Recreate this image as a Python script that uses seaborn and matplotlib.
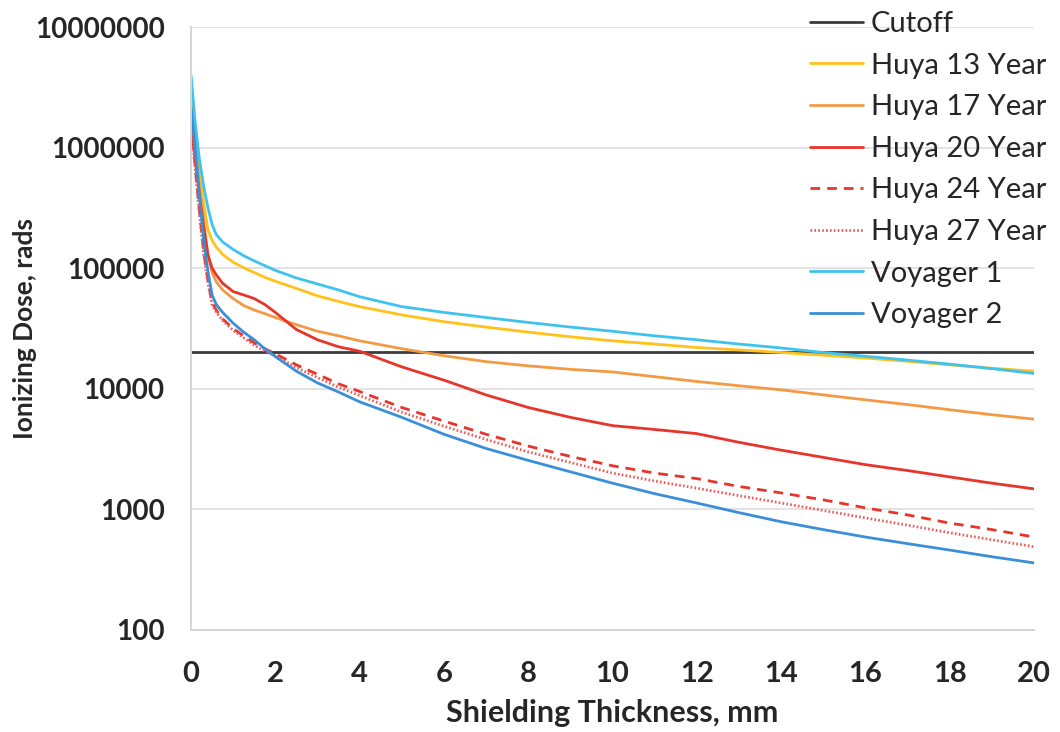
import numpy as np
import pandas as pd
import matplotlib
matplotlib.use("Agg")
import matplotlib.pyplot as plt
import seaborn as sns

# ---- data ----
thickness = [0, 0.1, 0.2, 0.3, 0.4, 0.5, 0.6, 0.75, 1, 1.25, 1.5, 1.75, 2, 2.5, 3, 3.5, 4,
             5, 6, 7, 8, 9, 10, 11, 12, 13, 14, 15, 16, 17, 18, 19, 20]
cutoff = [20000] * len(thickness)
huya13 = [2.5e6, 1.2e6, 600e3, 350e3, 210e3, 170e3, 150e3, 130e3, 112e3, 101e3, 92e3, 84e3,
          78e3, 68e3, 59e3, 53e3, 48e3,
          41e3, 36e3, 32.5e3, 29.5e3, 27e3, 25e3, 23.5e3, 22e3, 21e3, 20e3, 19e3, 18e3,
          16.9e3, 15.8e3, 14.8e3, 14e3]
huya17 = [2.0e6, 1.0e6, 480e3, 250e3, 130e3, 92e3, 77e3, 66e3, 56e3, 49e3, 45e3, 42e3,
          39e3, 34e3, 30e3, 27.5e3, 25e3,
          21.5e3, 18.8e3, 16.8e3, 15.5e3, 14.5e3, 13.8e3, 12.6e3, 11.5e3, 10.6e3, 9.8e3,
          8.9e3, 8.1e3, 7.4e3, 6.7e3, 6.1e3, 5.6e3]
huya20 = [1.7e6, 800e3, 400e3, 220e3, 130e3, 100e3, 88e3, 75e3, 64e3, 60e3, 56e3, 50e3,
          43e3, 31e3, 25.5e3, 22.3e3, 20.5e3,
          15.2e3, 11.8e3, 8.9e3, 7e3, 5.8e3, 4.95e3, 4.6e3, 4.25e3, 3.6e3, 3.1e3, 2.7e3,
          2.35e3, 2.1e3, 1.86e3, 1.65e3, 1.48e3]
huya24 = [1.6e6, 700e3, 300e3, 140e3, 80e3, 52e3, 45e3, 38e3, 31.5e3, 27.5e3, 24e3, 21.5e3,
          19.5e3, 15.8e3, 13.2e3, 11e3, 9.5e3,
          7e3, 5.4e3, 4.2e3, 3.35e3, 2.75e3, 2.3e3, 2.0e3, 1.8e3, 1.55e3, 1.37e3,
          1.2e3, 1.03e3, 900, 770, 680, 590]
huya27 = [1.5e6, 650e3, 280e3, 130e3, 76e3, 50e3, 43e3, 37e3, 30.5e3, 26.5e3, 23e3, 20.5e3,
          18.8e3, 15e3, 12.4e3, 10.3e3, 8.8e3,
          6.4e3, 4.9e3, 3.8e3, 3.0e3, 2.45e3, 2.0e3, 1.72e3, 1.5e3, 1.3e3, 1.13e3,
          980, 850, 740, 640, 560, 490]
voyager1 = [4.0e6, 1.6e6, 800e3, 480e3, 320e3, 230e3, 190e3, 165e3, 143e3, 127e3, 115e3,
            105e3, 96e3, 83e3, 74e3, 66e3, 58e3,
            48e3, 43e3, 39e3, 35.5e3, 32.5e3, 30e3, 27.5e3, 25.5e3, 23.5e3, 21.8e3,
            20e3, 18.6e3, 17.3e3, 16e3, 14.7e3, 13.4e3]
voyager2 = [2.2e6, 1.0e6, 400e3, 170e3, 95e3, 60e3, 50e3, 43e3, 35e3, 29.5e3, 25.5e3,
            21.5e3, 18.5e3, 14e3, 11.2e3, 9.4e3, 7.8e3,
            5.8e3, 4.2e3, 3.2e3, 2.55e3, 2.05e3, 1.65e3, 1.35e3, 1.13e3, 940, 790, 680,
            590, 520, 460, 405, 360]

series_names = ["Cutoff", "Huya 13 Year", "Huya 17 Year", "Huya 20 Year",
                "Huya 24 Year", "Huya 27 Year", "Voyager 1", "Voyager 2"]
series_values = [cutoff, huya13, huya17, huya20, huya24, huya27, voyager1, voyager2]
y_ticks = [100, 1000, 10000, 100000, 1000000, 10000000]
y_tick_labels = ["100", "1000", "10000", "100000", "1000000", "10000000"]
x_ticks = [0, 2, 4, 6, 8, 10, 12, 14, 16, 18, 20]

styles = {
    "Cutoff": dict(color="#3c3c3c", ls="-"),
    "Huya 13 Year": dict(color="#FFC21A", ls="-"),
    "Huya 17 Year": dict(color="#F39A45", ls="-"),
    "Huya 20 Year": dict(color="#E8352B", ls="-"),
    "Huya 24 Year": dict(color="#E8352B", ls=(0, (3.5, 2.5))),
    "Huya 27 Year": dict(color="#EE5A5A", ls=(0, (0.6, 0.8))),
    "Voyager 1": dict(color="#3EC3EE", ls="-"),
    "Voyager 2": dict(color="#3A8FDA", ls="-"),
}

sns.set_theme(style="white")
plt.rcParams["font.family"] = ["Lato", "DejaVu Sans"]

fig = plt.figure(figsize=(10.6, 7.32), dpi=100)
ax = fig.add_axes([191 / 1060, 1 - 630 / 732, (1034 - 191) / 1060, (630 - 27) / 732])

for name, vals in zip(series_names, series_values):
    st = styles[name]
    sns.lineplot(x=thickness, y=vals, ax=ax, color=st["color"], linestyle=st["ls"],
                 linewidth=2.0, label=name, legend=False)

ax.set_yscale("log")
ax.set_ylim(100, 1e7)
ax.set_xlim(0, 20)
ax.set_yticks(y_ticks)
ax.set_yticklabels(y_tick_labels)
ax.minorticks_off()
ax.set_xticks(x_ticks)
ax.set_xticklabels([str(t) for t in x_ticks])
ax.grid(axis="y", color="#e3e3e3", linewidth=1.4)
ax.grid(axis="x", visible=False)
ax.set_axisbelow(True)
for side in ["top", "right"]:
    ax.spines[side].set_visible(False)
for side in ["left", "bottom"]:
    ax.spines[side].set_color("#d6d6d6")
    ax.spines[side].set_linewidth(1.4)
ax.tick_params(axis="y", length=0, pad=19, labelsize=20)
ax.tick_params(axis="x", length=0, pad=22, labelsize=21)
for lab in ax.get_xticklabels() + ax.get_yticklabels():
    lab.set_fontweight("bold")

ax.set_xlabel("Shielding Thickness, mm", fontsize=22, fontweight="bold", labelpad=9)
ax.set_ylabel("Ionizing Dose, rads", fontsize=19, fontweight="bold")
ax.yaxis.set_label_coords(-0.183, 0.5)

handles, labels = ax.get_legend_handles_labels()
leg = fig.legend(handles, labels, loc="upper left", bbox_to_anchor=(810 / 1060, 1 - 11 / 732),
                 frameon=False, fontsize=21, handlelength=1.82, handletextpad=0.27,
                 labelspacing=0.535, borderaxespad=0, borderpad=0)

fig.savefig("out.png", dpi=100)
